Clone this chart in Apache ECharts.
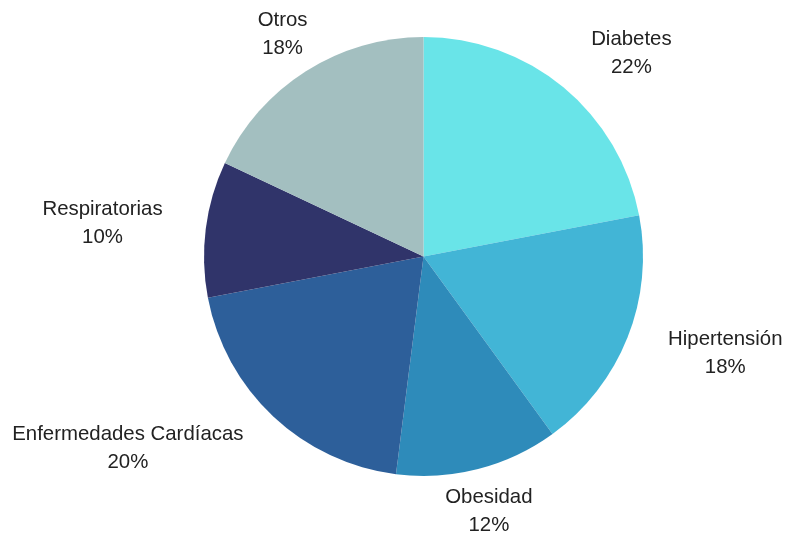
<!DOCTYPE html>
<html>
<head>
<meta charset="utf-8">
<script src="https://cdn.jsdelivr.net/npm/echarts@6/dist/echarts.min.js"></script>
<style>
  html, body { margin: 0; padding: 0; background: #fff; }
  #chart { width: 786px; height: 536px; }
</style>
</head>
<body>
<div id="chart"></div>
<script>
// Distribution of chronic conditions (percent share)
const categories = ['Diabetes', 'Hipertensión', 'Obesidad', 'Enfermedades Cardíacas', 'Respiratorias', 'Otros'];
const shares = [22, 18, 12, 20, 10, 18];
const sliceColors = ['#69E4E8', '#42B5D6', '#2E8BBA', '#2D5F9A', '#30346A', '#A3BFC0'];

// Pie geometry
const CX = 423.5, CY = 256.5, RADIUS = 219.5, LABEL_R = 263;

// Mid-angle direction of each slice, measured clockwise from 12 o'clock
const total = shares.reduce((a, b) => a + b, 0);
const midDirs = [];
let acc = 0;
shares.forEach(v => {
  const a = (acc + v / 2) / total * 2 * Math.PI;
  midDirs.push([Math.sin(a), -Math.cos(a)]);
  acc += v;
});

const chart = echarts.init(document.getElementById('chart'), null, { renderer: 'canvas' });
chart.setOption({
  animation: false,
  backgroundColor: '#ffffff',
  series: [{
    type: 'pie',
    center: [CX, CY],
    radius: RADIUS,
    startAngle: 90,
    clockwise: true,
    avoidLabelOverlap: false,
    emphasis: { disabled: true },
    data: categories.map((name, i) => ({
      name: name,
      value: shares[i],
      itemStyle: { color: sliceColors[i] }
    })),
    label: {
      show: true,
      position: 'outside',
      formatter: p => p.name + '\n' + Math.round(p.percent) + '%',
      fontFamily: '"Liberation Sans", Arial, sans-serif',
      fontSize: 20.4,
      lineHeight: 28,
      align: 'center',
      color: '#222222'
    },
    labelLine: { show: false },
    // Label blocks sit just outside the rim; side labels hang off the anchor
    // by their own width, top/bottom ones are centred on it.
    labelLayout: p => {
      const d = midDirs[p.dataIndex];
      const dx = d[0], dy = d[1];
      const halfW = p.labelRect.width / 2;
      const shift = Math.abs(dx) < 0.6 ? 0 : (dx > 0 ? halfW : -halfW);
      return {
        x: CX + LABEL_R * dx + shift,
        y: CY + LABEL_R * dy,
        align: 'center',
        verticalAlign: 'middle'
      };
    }
  }]
});
</script>
</body>
</html>
